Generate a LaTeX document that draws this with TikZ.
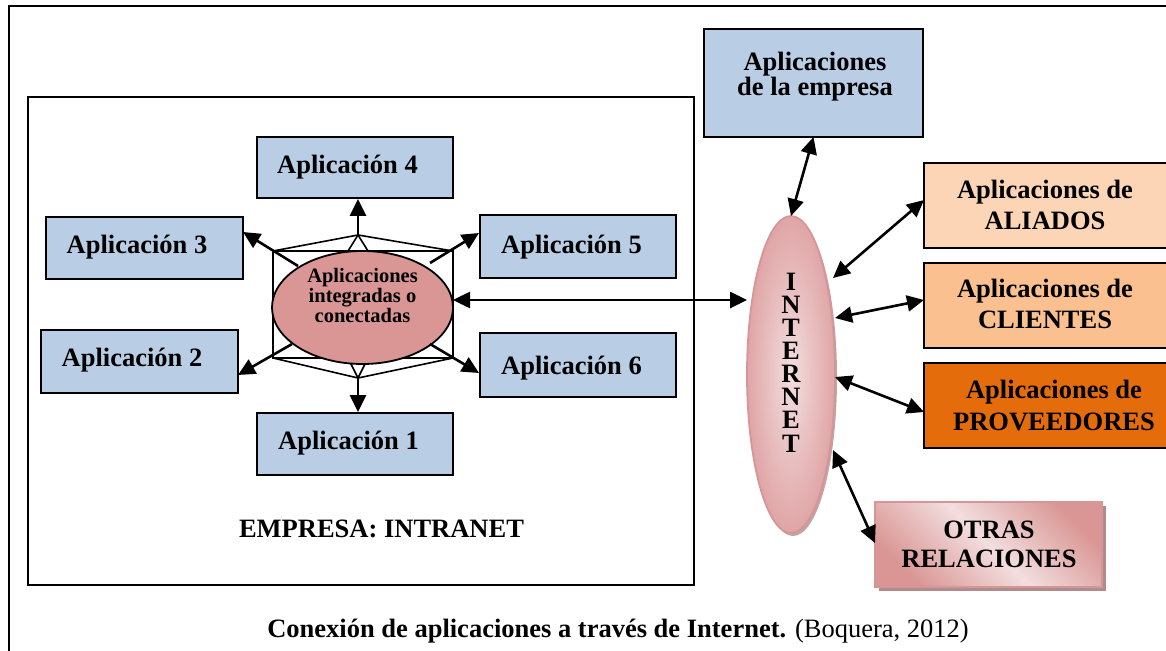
\documentclass[tikz,border=0pt]{standalone}
\usepackage{fontspec}
\setmainfont{Liberation Serif}
\usetikzlibrary{shapes.geometric,arrows.meta,shadows,calc}
\definecolor{boxblue}{RGB}{185,205,229}
\definecolor{aliado}{RGB}{251,213,181}
\definecolor{cliente}{RGB}{250,192,144}
\definecolor{provee}{RGB}{228,108,10}
\definecolor{rosa}{RGB}{217,150,148}
\definecolor{rosamed}{RGB}{224,165,166}
\definecolor{rosaclaro}{RGB}{243,222,223}
\definecolor{rosaborde}{RGB}{214,150,150}
\definecolor{sombra}{RGB}{176,140,140}
\begin{document}
\begin{tikzpicture}[x=1pt,y=-1pt,
  box/.style={draw=black,line width=1.8pt,inner sep=0pt},
  lbl/.style={font=\fontsize{26.5}{30.5}\selectfont\bfseries,inner sep=0pt,align=center,anchor=base},
  Tri/.tip={Triangle[length=17pt,width=16pt]},
  arr/.style={line width=2.6pt,-Tri},
  darr/.style={line width=2.6pt,Tri-Tri},
  struct/.style={line width=1.6pt}]
\useasboundingbox (0,0) rectangle (1166,650);
\clip (0,0) rectangle (1166,650);
% outer frame
\draw[line width=2pt] (9,700) -- (9,6) -- (1200,6);
% intranet box
\node[draw=black,line width=1.5pt,minimum width=666,minimum height=488,inner sep=0pt] (intra) at (361,341) {};
\node[lbl] (intrat) at (381.5,537) {EMPRESA: INTRANET};
% application boxes
\node[box,fill=boxblue,minimum width=196,minimum height=61] (ap4) at (355,167.5) {};
\node[box,fill=boxblue,minimum width=197,minimum height=62] (ap3) at (144.5,248) {};
\node[box,fill=boxblue,minimum width=197,minimum height=63] (ap2) at (139.5,361.5) {};
\node[box,fill=boxblue,minimum width=196,minimum height=63] (ap5) at (578,246.5) {};
\node[box,fill=boxblue,minimum width=196,minimum height=64] (ap6) at (578,365) {};
\node[box,fill=boxblue,minimum width=196,minimum height=62] (ap1) at (355,444) {};
\node[lbl] (ap4t) at (347.5,173) {Aplicación 4};
\node[lbl] (ap3t) at (137,253) {Aplicación 3};
\node[lbl] (ap2t) at (132,366) {Aplicación 2};
\node[lbl] (ap5t) at (571.5,253) {Aplicación 5};
\node[lbl] (ap6t) at (571.5,374) {Aplicación 6};
\node[lbl] (ap1t) at (348.5,449) {Aplicación 1};
% central structure
\coordinate (Tt) at (358,235);
\coordinate (Bb) at (358,378);
\draw[struct] (273,251) rectangle (453,358);
\draw[struct] (273,251) -- (Tt) -- (453,251);
\draw[struct] (348,251) -- (Tt) -- (368,251);
\draw[struct] (273,358) -- (Bb) -- (453,358);
\draw[struct] (348,358) -- (Bb) -- (368,358);
\node[ellipse,draw=black,line width=1.8pt,fill=rosa,minimum width=181,minimum height=113,inner sep=0pt] (cen) at (362.5,307.5) {};
\node[lbl,font=\fontsize{20.5}{16.8}\selectfont\bfseries] (cent) at (362.5,322) {Aplicaciones\\integradas o\\conectadas};
% arrows from centre
\coordinate (ul0) at (298,266); \coordinate (ul1) at (243,232);
\coordinate (ur0) at (430,263); \coordinate (ur1) at (479,233);
\coordinate (ll0) at (292,344); \coordinate (ll1) at (238,375);
\coordinate (lr0) at (430,344); \coordinate (lr1) at (479,373);
\draw[arr] (Tt) -- (Tt |- ap4.south);
\draw[arr] (Bb) -- (Bb |- ap1.north);
\draw[arr] (ul0) -- (ul1);
\draw[arr] (ur0) -- (ur1);
\draw[arr] (ll0) -- (ll1);
\draw[arr] (lr0) -- (lr1);
% internet
\node[ellipse,draw=rosaborde,line width=1.8pt,inner color=rosaclaro,outer color=rosamed,
  minimum width=88,minimum height=317,inner sep=0pt,
  drop shadow={shadow xshift=2pt,shadow yshift=-3pt,fill=sombra,opacity=0.8}] (inet) at (791,374.5) {};
\node[lbl,font=\fontsize{26.5}{23.1}\selectfont\bfseries] (inett) at (791,452) {I\\N\\T\\E\\R\\N\\E\\T};
% right boxes
\node[box,fill=boxblue,minimum width=219,minimum height=108] (emp) at (813.5,83) {};
\node[lbl,font=\fontsize{26.5}{24}\selectfont\bfseries] (empt) at (815,96) {Aplicaciones\\de la empresa};
\node[box,fill=aliado,minimum width=246,minimum height=85] (ali) at (1047,205.5) {};
\node[lbl] (alit) at (1045,229) {Aplicaciones de\\ALIADOS};
\node[box,fill=cliente,minimum width=246,minimum height=85] (cli) at (1047,305.5) {};
\node[lbl] (clit) at (1045,328) {Aplicaciones de\\CLIENTES};
\node[box,fill=provee,minimum width=246,minimum height=85] (pro) at (1047,405.5) {};
\node[lbl,font=\fontsize{26.5}{32}\selectfont\bfseries] (prot) at (1054,430) {Aplicaciones de\\PROVEEDORES};
\node[draw=rosaborde,line width=1.5pt,minimum width=227,minimum height=85,inner sep=0pt,
  top color=rosa,bottom color=rosa,middle color=rosaclaro,shading angle=-45,
  drop shadow={shadow xshift=4pt,shadow yshift=-4pt,fill=sombra,opacity=1}] (otr) at (988.5,544.5) {};
\node[lbl,font=\fontsize{26.5}{29}\selectfont\bfseries] (otrt) at (989,567) {OTRAS\\RELACIONES};
% internet connectors
\coordinate (h0) at (453,300); \coordinate (h1) at (747,300);
\draw[darr] (h0) -- (h1);
\coordinate (e1) at (791,216);
\draw[darr] (emp.south |- 791,137) -- (e1);
\coordinate (a0) at (833,278); \coordinate (a1) at (924,200);
\coordinate (c0) at (835,318); \coordinate (c1) at (924,300);
\coordinate (p0) at (835,377); \coordinate (p1) at (924,412);
\coordinate (o0) at (833,450); \coordinate (o1) at (875,543);
\draw[darr] (a0) -- (a1);
\draw[darr] (c0) -- (c1);
\draw[darr] (p0) -- (p1);
\draw[darr] (o0) -- (o1);
% caption
\node[font=\fontsize{26.5}{30}\selectfont,inner sep=0pt,anchor=base] (cap) at (618,637)
  {\textbf{Conexión de aplicaciones a través de Internet.} (Boquera, 2012)};
\end{tikzpicture}
\end{document}
